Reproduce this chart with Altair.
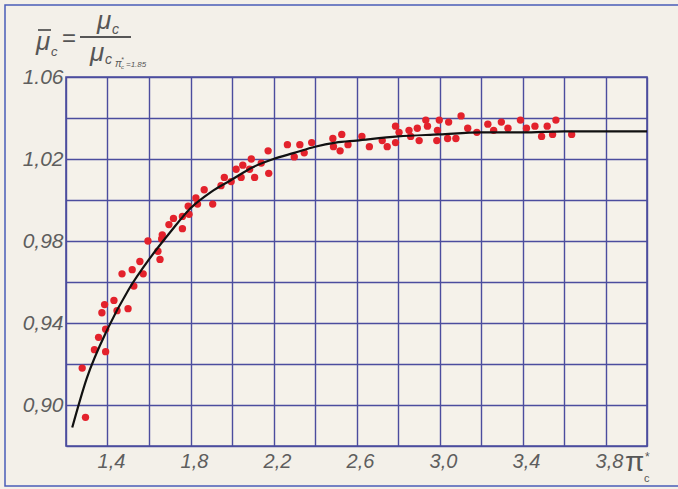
import altair as alt
import pandas as pd

# ---- measured points (red dots) ----
pts_x = [1.294, 1.278, 1.337, 1.391, 1.357, 1.391, 1.373, 1.386, 1.431, 1.446,
         1.499, 1.527, 1.470, 1.519, 1.556, 1.572, 1.595, 1.653, 1.643, 1.661,
         1.664, 1.696, 1.718, 1.761, 1.761, 1.793, 1.789, 1.826, 1.834, 1.907,
         1.866, 1.947, 1.963, 1.996, 2.020, 2.052, 2.044, 2.093, 2.085, 2.109,
         2.141, 2.174, 2.177, 2.267, 2.327, 2.300, 2.348, 2.384, 2.486, 2.529,
         2.489, 2.521, 2.559, 2.626, 2.662, 2.724, 2.748, 2.788, 2.788, 2.805,
         2.853, 2.861, 2.893, 2.902, 2.934, 2.942, 2.990, 2.999, 2.987, 3.044,
         3.039, 3.079, 3.104, 3.136, 3.180, 3.233, 3.261, 3.298, 3.330, 3.390,
         3.419, 3.460, 3.492, 3.519, 3.545, 3.561, 3.637]
pts_y = [0.894, 0.918, 0.927, 0.926, 0.933, 0.937, 0.945, 0.949, 0.951, 0.946,
         0.947, 0.958, 0.964, 0.966, 0.970, 0.964, 0.980, 0.971, 0.975, 0.981,
         0.983, 0.988, 0.991, 0.986, 0.992, 0.993, 0.997, 1.001, 0.998, 0.998,
         1.005, 1.007, 1.011, 1.009, 1.015, 1.017, 1.011, 1.020, 1.015, 1.011,
         1.018, 1.024, 1.013, 1.027, 1.027, 1.021, 1.023, 1.028, 1.030, 1.032,
         1.026, 1.024, 1.027, 1.031, 1.026, 1.029, 1.026, 1.028, 1.036, 1.033,
         1.034, 1.031, 1.035, 1.029, 1.039, 1.036, 1.034, 1.039, 1.029, 1.038,
         1.030, 1.030, 1.041, 1.035, 1.033, 1.037, 1.034, 1.038, 1.035, 1.039,
         1.035, 1.036, 1.031, 1.036, 1.032, 1.039, 1.032]

# ---- fitted curve ----
curve_x = [1.23, 1.30, 1.40, 1.50, 1.60, 1.70, 1.80, 1.90, 2.00, 2.10, 2.20,
           2.30, 2.40, 2.50, 2.60, 2.80, 3.00, 3.20, 3.40, 3.60, 3.80, 4.00]
curve_y = [0.889, 0.913, 0.937, 0.956, 0.971, 0.984, 0.996, 1.004, 1.010, 1.016,
           1.020, 1.023, 1.026, 1.028, 1.029, 1.031, 1.032, 1.033, 1.033, 1.0335,
           1.0335, 1.0335]

# ---- axes ----
x_grid = [1.2, 1.4, 1.6, 1.8, 2.0, 2.2, 2.4, 2.6, 2.8, 3.0, 3.2, 3.4, 3.6, 3.8, 4.0]
x_tick_values = [1.4, 1.8, 2.2, 2.6, 3.0, 3.4, 3.8]
x_tick_labels = ["1,4", "1,8", "2,2", "2,6", "3,0", "3,4", "3,8"]
y_grid = [0.88, 0.90, 0.92, 0.94, 0.96, 0.98, 1.00, 1.02, 1.04, 1.06]
y_tick_values = [0.90, 0.94, 0.98, 1.02, 1.06]
y_tick_labels = ["0,90", "0,94", "0,98", "1,02", "1.06"]

GRID = "#4b4d9e"
LABEL = "#5e5e5e"
FONT = "Liberation Sans"

OX, OY = 66, 77          # plot origin in page pixels
W, H = 581, 369          # plot area


def label_expr(vals, labels, fmt):
    e = ""
    for v, l in zip(vals, labels):
        e += f"format(datum.value, '{fmt}') == '{format(v, fmt)}' ? '{l}' : "
    return e + "''"


pts = pd.DataFrame({"x": pts_x, "y": pts_y})
curve = pd.DataFrame({"x": curve_x, "y": curve_y})
xlab = pd.DataFrame({"x": x_tick_values, "t": x_tick_labels})

xs = alt.Scale(domain=[1.2, 4.0], nice=False, zero=False)
ys = alt.Scale(domain=[0.88, 1.06], nice=False, zero=False)

x_axis = alt.Axis(values=x_grid, grid=True, gridColor=GRID, gridWidth=1.4, gridOpacity=1,
                  domain=False, ticks=False, labels=False, title=None)
y_axis = alt.Axis(values=y_grid, grid=True, gridColor=GRID, gridWidth=1.4, gridOpacity=1,
                  domain=False, ticks=False, title=None,
                  labelExpr=label_expr(y_tick_values, y_tick_labels, ".2f"),
                  labelFont=FONT, labelFontStyle="italic", labelFontSize=21,
                  labelColor=LABEL, labelPadding=3, labelFlush=False,
                  labelOverlap=False)

dots = alt.Chart(pts).mark_circle(size=54, color="#e3222c", opacity=1).encode(
    x=alt.X("x:Q", scale=xs, axis=x_axis),
    y=alt.Y("y:Q", scale=ys, axis=y_axis),
)
line = alt.Chart(curve).mark_line(color="#111111", strokeWidth=2.2, interpolate="monotone").encode(
    x=alt.X("x:Q", scale=xs),
    y=alt.Y("y:Q", scale=ys),
)
xlabels = alt.Chart(xlab).mark_text(align="center", baseline="alphabetic", dx=4,
                                    font=FONT, fontStyle="italic", fontSize=20,
                                    color=LABEL).encode(
    x=alt.X("x:Q", scale=xs),
    y=alt.value(H + 22),
    text="t:N",
)

one = pd.DataFrame({"k": [0]})


def txt(s, x, y, size, align="left", style="italic", font=FONT, color="#565656"):
    return alt.Chart(one).mark_text(text=s, align=align, baseline="alphabetic", fontSize=size,
                                    fontStyle=style, font=font, color=color).encode(
        x=alt.value(x - OX), y=alt.value(y - OY))


def rule(x1, x2, y1, y2, w, color="#565656"):
    return alt.Chart(one).mark_rule(color=color, strokeWidth=w).encode(
        x=alt.value(x1 - OX), x2=alt.value(x2 - OX), y=alt.value(y1 - OY), y2=alt.value(y2 - OY))


deco = [
    # formula: mu-bar_c = mu_c / mu_c(pi*_c = 1.85)
    txt("μ", 36, 50, 26),
    rule(38, 51, 30, 30, 1.8),
    txt("c", 51, 56, 13),
    txt("=", 62, 46, 24, style="normal"),
    txt("μ", 97, 29, 26),
    txt("c", 112, 34, 14),
    rule(80, 131, 37, 37, 2),
    txt("μ", 90, 61, 26),
    txt("c", 105, 64, 14),
    txt("π", 115, 67, 10),
    txt("*", 121, 62, 7),
    txt("c", 121, 69, 6),
    txt("=1.85", 126, 67, 8),
    # x-axis title pi*_c
    txt("π", 625, 471, 28, style="normal"),
    txt("*", 645, 461, 12, style="normal"),
    txt("c", 644, 482, 11, style="normal"),
]

frame = alt.Chart(one).mark_rect(fillOpacity=0, stroke="#4a5cb8", strokeWidth=1.5).encode(
    x=alt.value(5 - OX), x2=alt.value(720 - OX), y=alt.value(5 - OY), y2=alt.value(486 - OY))

chart = alt.layer(frame, dots, line, xlabels, *deco).properties(
    width=W, height=H,
    padding={"left": OX, "top": OY, "right": 678 - OX - W, "bottom": 489 - OY - H},
    autosize=alt.AutoSizeParams(type="none"),
    background="#f3f0e9",
).configure_view(
    stroke=GRID, strokeWidth=1.6, fill="#f5f2ea"
)

chart.save("out.html", embed_options={"renderer": "svg", "actions": False})
